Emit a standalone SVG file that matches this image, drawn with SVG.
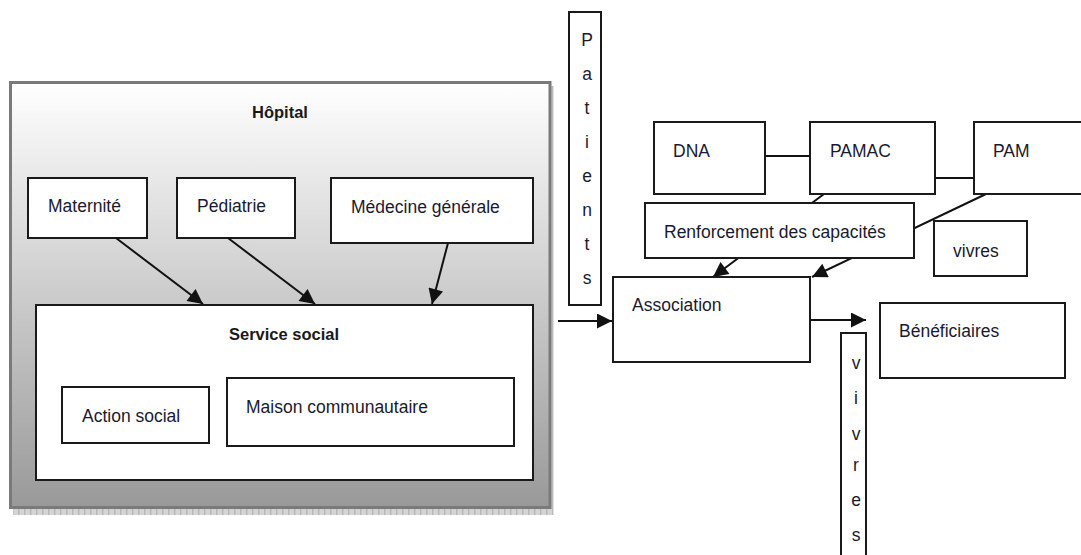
<svg xmlns="http://www.w3.org/2000/svg" width="1081" height="555" viewBox="0 0 1081 555">
<style>
.box{fill:#fff;stroke:#1a1a1a;stroke-width:2}
.t{font-family:"Liberation Sans",Arial,sans-serif;font-size:17.5px;fill:#1a1a2e}
.b{font-family:"Liberation Sans",Arial,sans-serif;font-size:16.5px;font-weight:bold;fill:#1a1a1a}
.v{font-family:"Liberation Sans",Arial,sans-serif;font-size:17.5px;fill:#1a1a2e;text-anchor:middle}
.c{stroke:#111;stroke-width:2;fill:none}
</style>
<defs>
<linearGradient id="g" x1="0" y1="0" x2="0" y2="1">
<stop offset="0" stop-color="#ffffff"/>
<stop offset="1" stop-color="#999999"/>
</linearGradient>
<pattern id="sh" width="6" height="6" patternUnits="userSpaceOnUse">
<rect width="6" height="6" fill="#d4d4d4"/>
<rect width="1.5" height="6" fill="#b8b8b8"/>
</pattern>
<marker id="a" viewBox="0 0 10 10" refX="10" refY="5" markerWidth="8" markerHeight="7.5" markerUnits="strokeWidth" orient="auto">
<path d="M0,0 L10,5 L0,10 Z" fill="#111"/>
</marker>
</defs>

<g id="hopital">
<rect x="13" y="507" width="540" height="8" fill="url(#sh)"/>
<rect x="550" y="86" width="3.5" height="429" fill="url(#sh)"/>
<rect x="10.5" y="82.5" width="539.5" height="425" fill="url(#g)" stroke="#7a7a7a" stroke-width="3"/>
<text class="b" x="280" y="118" text-anchor="middle">Hôpital</text>
</g>
<g id="maternite">
<rect class="box" x="28" y="178" width="119" height="60"/>
<text class="t" x="48" y="212">Maternité</text>
</g>
<g id="pediatrie">
<rect class="box" x="177" y="178" width="118" height="60"/>
<text class="t" x="197" y="212">Pédiatrie</text>
</g>
<g id="medecine">
<rect class="box" x="331" y="178" width="202" height="65"/>
<text class="t" x="351" y="213">Médecine générale</text>
</g>
<g id="service-social">
<rect class="box" x="36" y="305" width="497" height="175"/>
<text class="b" x="284" y="340" text-anchor="middle">Service social</text>
</g>
<g id="action-social">
<rect class="box" x="62" y="387" width="147" height="56"/>
<text class="t" x="82" y="422">Action social</text>
</g>
<g id="maison">
<rect class="box" x="227" y="378" width="287" height="68"/>
<text class="t" x="246" y="413">Maison communautaire</text>
</g>

<g id="connectors">
<line class="c" x1="116" y1="238" x2="203" y2="304" marker-end="url(#a)"/>
<line class="c" x1="228" y1="238" x2="315" y2="304" marker-end="url(#a)"/>
<line class="c" x1="448" y1="243" x2="432" y2="304" marker-end="url(#a)" stroke-width="1.6"/>
<line class="c" x1="558" y1="321" x2="612" y2="321" marker-end="url(#a)"/>
<line class="c" x1="810" y1="320" x2="866" y2="320" marker-end="url(#a)"/>
<line class="c" x1="765" y1="156" x2="810" y2="156"/>
<line class="c" x1="935" y1="178" x2="974" y2="178"/>
<line class="c" x1="824" y1="194" x2="713" y2="277" marker-end="url(#a)"/>
<line class="c" x1="986" y1="194" x2="812" y2="277" marker-end="url(#a)"/>
</g>

<g id="patients">
<rect class="box" x="569" y="12" width="32" height="293"/>
<text class="v" x="587"><tspan x="587" y="46">P</tspan><tspan x="587" y="80">a</tspan><tspan x="587" y="114">t</tspan><tspan x="587" y="148">i</tspan><tspan x="587" y="182">e</tspan><tspan x="587" y="216">n</tspan><tspan x="587" y="250">t</tspan><tspan x="587" y="284">s</tspan></text>
</g>
<g id="dna">
<rect class="box" x="654" y="122" width="111" height="72"/>
<text class="t" x="673" y="157">DNA</text>
</g>
<g id="pamac">
<rect class="box" x="810" y="122" width="125" height="72"/>
<text class="t" x="830" y="157">PAMAC</text>
</g>
<g id="pam">
<rect class="box" x="974" y="122" width="120" height="72"/>
<text class="t" x="993" y="157">PAM</text>
</g>
<g id="renforcement">
<rect class="box" x="645" y="203" width="269" height="55"/>
<text class="t" x="664" y="238">Renforcement des capacités</text>
</g>
<g id="vivres">
<rect class="box" x="934" y="221" width="93" height="55"/>
<text class="t" x="953" y="257">vivres</text>
</g>
<g id="association">
<rect class="box" x="613" y="277" width="197" height="85"/>
<text class="t" x="632" y="311">Association</text>
</g>
<g id="beneficiaires">
<rect class="box" x="880" y="303" width="185" height="75"/>
<text class="t" x="899" y="337">Bénéficiaires</text>
</g>
<g id="vivres-vertical">
<rect class="box" x="841" y="333" width="25" height="230"/>
<text class="v" x="856"><tspan x="856" y="369">v</tspan><tspan x="856" y="404">i</tspan><tspan x="856" y="440">v</tspan><tspan x="856" y="471">r</tspan><tspan x="856" y="506">e</tspan><tspan x="856" y="541">s</tspan></text>
</g>
</svg>
